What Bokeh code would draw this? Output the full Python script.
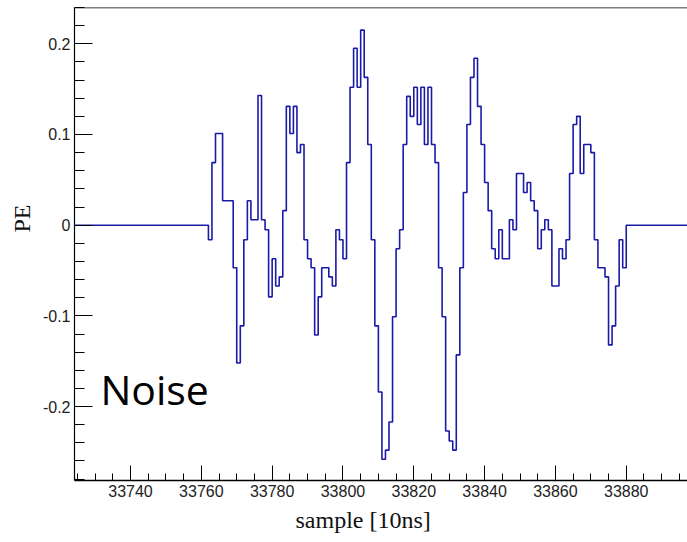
import math
import numpy as np
from bokeh.plotting import figure
from bokeh.models import Range1d, FixedTicker, Span, Label, Title
from bokeh.embed import file_html
from bokeh.resources import INLINE

# ---------------- data ----------------
hist_first = 33724          # first bin shown
hist_last = 33898           # last bin (beyond right edge)
wave_start = 33762          # first non-zero bin
pe_values = [
    -0.016, 0.069, 0.101, 0.101, 0.027, 0.027, 0.027, -0.047, -0.152, -0.111,   # 33762-
    -0.016, 0.027, 0.006, 0.006, 0.143, 0.006, -0.005, -0.079, -0.037, -0.067,   # 33772-
    -0.057, 0.016, 0.131, 0.101, 0.131, 0.080, 0.089, -0.016, -0.037, -0.047,    # 33782-
    -0.121, -0.079, -0.047, -0.047, -0.057, -0.067, -0.005, -0.016, -0.037, 0.069,  # 33792-
    0.152, 0.195, 0.152, 0.215, 0.163, 0.089, -0.016, -0.111, -0.184, -0.258,    # 33802-
    -0.248, -0.217, -0.101, -0.026, -0.005, 0.089, 0.142, 0.120, 0.152, 0.111,   # 33812-
    0.152, 0.089, 0.152, 0.089, 0.069, -0.047, -0.101, -0.227, -0.238, -0.248,   # 33822-
    -0.143, -0.047, 0.036, 0.111, 0.163, 0.184, 0.131, 0.089, 0.047, 0.016,      # 33832-
    -0.026, -0.037, -0.005, -0.037, -0.037, 0.006, -0.005, 0.057, 0.057, 0.036,  # 33842-
    0.047, 0.027, 0.016, -0.026, -0.005, 0.006, -0.005, -0.067, -0.067, -0.026,  # 33852-
    -0.037, -0.016, 0.057, 0.111, 0.120, 0.057, 0.089, 0.089, 0.080, -0.016,     # 33862-
    -0.047, -0.047, -0.057, -0.132, -0.111, -0.067, -0.016, -0.047,              # 33872-33879
]

x_ticks = [33740, 33760, 33780, 33800, 33820, 33840, 33860, 33880]
x_tick_labels = ["33740", "33760", "33780", "33800", "33820", "33840", "33860", "33880"]
y_ticks = [-0.2, -0.1, 0.0, 0.1, 0.2]
y_tick_labels = ["-0.2", "-0.1", "0", "0.1", "0.2"]

x_title = "sample [10ns]"
y_title = "PE"
note_text = "Noise"

# ---------------- build histogram as steps ----------------
samples = list(range(hist_first, hist_last + 1))
n_before = wave_start - hist_first
n_after = len(samples) - n_before - len(pe_values)
values = [0.0] * n_before + pe_values + [0.0] * n_after

X0, X1 = 33724.18, 33897.3
Y0, Y1 = -0.2815, 0.2400

p = figure(width=687, height=542, output_backend="svg", toolbar_location=None,
           x_range=Range1d(X0, X1), y_range=Range1d(Y0, Y1),
           min_border_left=74, min_border_right=0, min_border_top=7, min_border_bottom=62)
p.background_fill_color = "white"
p.border_fill_color = "white"
p.outline_line_color = None
p.grid.visible = False

p.step(samples, values, mode="after", line_color="#1a1aa8", line_width=1.6)

# axes
xa = p.xaxis[0]
xa.ticker = FixedTicker(ticks=x_ticks, minor_ticks=list(np.arange(33725, 33900, 5)))
xa.major_label_overrides = {t: s for t, s in zip(x_ticks, x_tick_labels)}
xa.major_tick_in = 15
xa.major_tick_out = 0
xa.minor_tick_in = 7
xa.minor_tick_out = 0
xa.major_label_standoff = 4
xa.major_label_text_font = "Liberation Sans"
xa.major_label_text_font_size = "16px"
xa.major_label_text_color = "#222222"
xa.axis_line_color = "black"
xa.axis_line_width = 1.5

ya = p.yaxis[0]
ya.ticker = FixedTicker(ticks=y_ticks, minor_ticks=[round(v, 2) for v in np.arange(-0.28, 0.25, 0.02)])
ya.major_label_overrides = {t: s for t, s in zip(y_ticks, y_tick_labels)}
ya.major_tick_in = 18
ya.major_tick_out = 0
ya.minor_tick_in = 10
ya.minor_tick_out = 0
ya.major_label_standoff = 4
ya.major_label_text_font = "Liberation Sans"
ya.major_label_text_font_size = "16px"
ya.major_label_text_color = "#222222"
ya.axis_line_color = "black"
ya.axis_line_width = 1.2

# top frame line
p.add_layout(Span(location=Y1, dimension="width", line_color="black", line_width=1.5))

# axis titles (as side-panel titles so they are not clipped)
p.add_layout(Title(text=x_title, text_font="Liberation Serif", text_font_size="24px",
                   text_font_style="normal", text_color="#111111", align="left",
                   offset=221, standoff=10), "below")
p.add_layout(Title(text=y_title, text_font="Liberation Serif", text_font_size="24px",
                   text_font_style="normal", text_color="#111111", align="left",
                   offset=248, standoff=9), "left")

# annotation
p.add_layout(Label(x=33731.5, y=-0.181, text=note_text, text_font="Open Sans",
                   text_font_size="41px", text_align="left", text_baseline="alphabetic",
                   text_color="black"))

open("out.html", "w").write(file_html(p, INLINE))
